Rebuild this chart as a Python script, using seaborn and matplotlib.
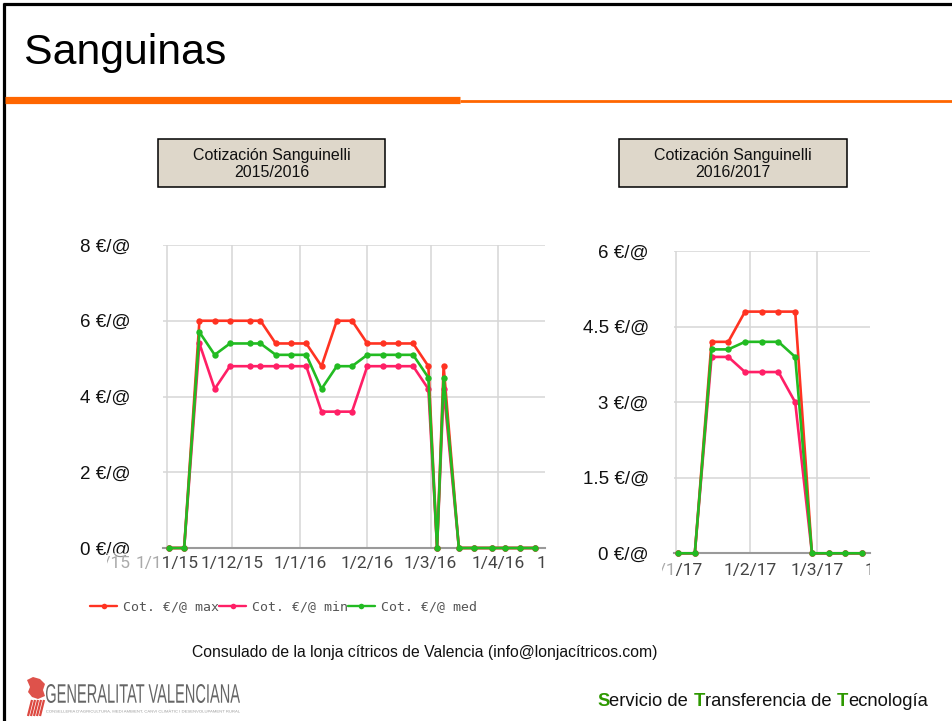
import matplotlib
matplotlib.use("Agg")
import matplotlib.pyplot as plt
import matplotlib.dates as mdates
import matplotlib.transforms as mtrans
import seaborn as sns
import pandas as pd
from matplotlib.patches import Rectangle, PathPatch, Polygon
from matplotlib.textpath import TextPath
from matplotlib.font_manager import FontProperties
from matplotlib.lines import Line2D

# ---------------- data ----------------
fechas_1516 = ["2015-11-02", "2015-11-09", "2015-11-16", "2015-11-23", "2015-11-30",
               "2015-12-09", "2015-12-14", "2015-12-21", "2015-12-28", "2016-01-04",
               "2016-01-11", "2016-01-18", "2016-01-25", "2016-02-01", "2016-02-08",
               "2016-02-15", "2016-02-22", "2016-02-29", "2016-03-04", "2016-03-07",
               "2016-03-14", "2016-03-21", "2016-03-29", "2016-04-04", "2016-04-11",
               "2016-04-18"]
max_1516 = [0, 0, 6.0, 6.0, 6.0, 6.0, 6.0, 5.4, 5.4, 5.4, 4.8, 6.0, 6.0, 5.4, 5.4,
            5.4, 5.4, 4.8, 0, 4.8, 0, 0, 0, 0, 0, 0]
min_1516 = [0, 0, 5.4, 4.2, 4.8, 4.8, 4.8, 4.8, 4.8, 4.8, 3.6, 3.6, 3.6, 4.8, 4.8,
            4.8, 4.8, 4.2, 0, 4.2, 0, 0, 0, 0, 0, 0]
med_1516 = [0, 0, 5.7, 5.1, 5.4, 5.4, 5.4, 5.1, 5.1, 5.1, 4.2, 4.8, 4.8, 5.1, 5.1,
            5.1, 5.1, 4.5, 0, 4.5, 0, 0, 0, 0, 0, 0]

fechas_1617 = ["2017-01-02", "2017-01-09", "2017-01-16", "2017-01-23", "2017-01-30",
               "2017-02-06", "2017-02-13", "2017-02-20", "2017-02-27", "2017-03-06",
               "2017-03-13", "2017-03-20"]
max_1617 = [0, 0, 4.2, 4.2, 4.8, 4.8, 4.8, 4.8, 0, 0, 0, 0]
min_1617 = [0, 0, 3.9, 3.9, 3.6, 3.6, 3.6, 3.0, 0, 0, 0, 0]
med_1617 = [0, 0, 4.05, 4.05, 4.2, 4.2, 4.2, 3.9, 0, 0, 0, 0]

series = ["Cot. €/@ max", "Cot. €/@ min", "Cot. €/@ med"]

yticks_1516 = [0, 2, 4, 6, 8]
ylabels_1516 = ["0 €/@", "2 €/@", "4 €/@", "6 €/@", "8 €/@"]
yticks_1617 = [0, 1.5, 3, 4.5, 6]
ylabels_1617 = ["0 €/@", "1.5 €/@", "3 €/@", "4.5 €/@", "6 €/@"]

meses_1516 = ["2015-10-01", "2015-11-01", "2015-12-01", "2016-01-01", "2016-02-01",
              "2016-03-01", "2016-04-01", "2016-05-01"]
xlabels_1516 = ["1/10/15", "1/11/15", "1/12/15", "1/1/16", "1/2/16", "1/3/16",
                "1/4/16", "1/5/16"]
meses_1617 = ["2017-01-01", "2017-02-01", "2017-03-01", "2017-04-01"]
xlabels_1617 = ["1/1/17", "1/2/17", "1/3/17", "1/4/17"]

titulo = "Sanguinas"
caja_1 = "Cotización Sanguinelli\n2015/2016"
caja_2 = "Cotización Sanguinelli\n2016/2017"
pie = "Consulado de la lonja cítricos de Valencia (info@lonjacítricos.com)"

# ---------------- style ----------------
sns.set_theme(style="whitegrid")
plt.rcParams["font.family"] = ["Liberation Sans", "DejaVu Sans"]

W, H = 953, 721
fig = plt.figure(figsize=(W / 100, H / 100), dpi=100)
fig.patch.set_facecolor("white")

bg = fig.add_axes([0, 0, 1, 1])
bg.set_xlim(0, W)
bg.set_ylim(H, 0)
bg.axis("off")

palette = {series[0]: "#FF3322", series[1]: "#FF1F66", series[2]: "#22BB22"}


def fr(x0, y0, x1, y1):
    return [x0 / W, 1 - y1 / H, (x1 - x0) / W, (y1 - y0) / H]


def make_df(fechas, a, b, c):
    return pd.DataFrame({
        "fecha": pd.to_datetime(fechas * 3),
        "valor": a + b + c,
        "serie": [series[0]] * len(fechas) + [series[1]] * len(fechas) + [series[2]] * len(fechas),
    })


def chart(rect, df, yt, ylab, meses, xlim, ylim, pad):
    ax = fig.add_axes(rect)
    sns.lineplot(data=df, x="fecha", y="valor", hue="serie", hue_order=series,
                 palette=palette, marker="o", markersize=4.6, markeredgewidth=0,
                 linewidth=1.9, legend=False, estimator=None, sort=False, ax=ax)
    for ln in ax.lines:
        ln.set_clip_on(False)
    ax.set_xlim(pd.Timestamp(xlim[0]), pd.Timestamp(xlim[1]))
    ax.set_ylim(*ylim)
    inside = [pd.Timestamp(m) for m in meses
              if pd.Timestamp(xlim[0]) <= pd.Timestamp(m) <= pd.Timestamp(xlim[1])]
    ax.set_xticks(inside)
    ax.set_yticks(yt)
    ax.set_yticklabels(ylab)
    ax.tick_params(axis="x", labelbottom=False, length=0)
    ax.tick_params(axis="y", length=0, pad=pad, labelsize=13.5, labelcolor="#111111")
    ax.grid(True, color="#D6D6D6", lw=1.1)
    ax.set_axisbelow(True)
    for s in ["top", "right", "left"]:
        ax.spines[s].set_visible(False)
    ax.spines["bottom"].set_color("#9A9A9A")
    ax.spines["bottom"].set_linewidth(1.5)
    ax.spines["bottom"].set_zorder(1.5)
    ax.set_xlabel("")
    ax.set_ylabel("")
    ax.set_facecolor("white")
    return ax


def month_labels(ax, meses, labels, clip_left, plot_left, clip_right, gap):
    trans = mtrans.blended_transform_factory(ax.transData, ax.transAxes) + \
        mtrans.Affine2D().translate(0, -gap)
    for m, lab in zip(meses, labels):
        xv = mdates.date2num(pd.Timestamp(m))
        t = fig.text(xv, 0, lab, transform=trans, ha="center", va="top",
                     fontsize=12.5, family="Roboto", color="#444444")
        t.set_clip_on(True)
        t.set_clip_box(mtrans.TransformedBbox(
            mtrans.Bbox.from_extents(clip_left / W, 0, clip_right / W, 1), fig.transFigure))
    # fade the part of the labels that lies left of the plot area
    y_top = ax.get_position().y0 * H
    fade = Rectangle((clip_left, y_top - 35), plot_left - clip_left, 30,
                     transform=mtrans.IdentityTransform(), facecolor="white",
                     alpha=0.55, edgecolor="none", zorder=5)
    fig.add_artist(fade)


# ---------------- chart 1 ----------------
ax1 = chart(fr(163, 245, 545, 548), make_df(fechas_1516, max_1516, min_1516, med_1516),
            yticks_1516, ylabels_1516, meses_1516,
            ("2015-10-30 07:00", "2016-04-22 12:00"), (0, 8), 23.5)
month_labels(ax1, meses_1516, xlabels_1516, 107, 163, 545, 8)

handles = [Line2D([], [], color=palette[s], lw=1.7, marker="o", ms=4, mew=0) for s in series]
fig.legend(handles, series, loc="center left", bbox_to_anchor=(90 / W, 1 - 607 / H),
           ncol=3, frameon=False, handlelength=2.05, handletextpad=0.45,
           columnspacing=0.0, borderpad=0, borderaxespad=0,
           prop=FontProperties(family="DejaVu Sans Mono", size=9.5), labelcolor="#555555")

# ---------------- chart 2 ----------------
ax2 = chart(fr(674, 251.2, 870, 553.3), make_df(fechas_1617, max_1617, min_1617, med_1617),
            yticks_1617, ylabels_1617, meses_1617,
            ("2016-12-31 07:00", "2017-03-23 07:00"), (0, 6), 18)
month_labels(ax2, meses_1617, xlabels_1617, 662, 674, 870, 10)

# ---------------- slide decoration ----------------
bg.plot([4, 4], [3, H], color="black", lw=2.3, clip_on=False, solid_capstyle="butt")
bg.plot([3, W], [4, 4], color="black", lw=2.3, clip_on=False, solid_capstyle="butt")
bg.plot([5, 460], [100, 100], color="#FF6600", lw=5.2, solid_capstyle="butt")
bg.plot([460, W], [100.5, 100.5], color="#FF6600", lw=2.0, solid_capstyle="butt")

bg.text(24, 64, titulo, fontsize=30.8, color="black", va="baseline", ha="left")

for (x0, y0, x1, y1), txt in [((158, 139, 385, 187), caja_1), ((619, 139, 847, 187), caja_2)]:
    bg.add_patch(Rectangle((x0, y0), x1 - x0, y1 - y0, facecolor="#DED7CA",
                           edgecolor="black", lw=1.1))
    bg.text((x0 + x1) / 2, (y0 + y1) / 2 + 1, txt, ha="center", va="center",
            fontsize=11.5, linespacing=1.18, color="#111111")

bg.text(425, 653, pie, ha="center", va="center", fontsize=11.3, color="#111111")

green = "#2E9900"
pieces = [("S", green, "bold"), ("ervicio de ", "#111111", "normal"),
          ("T", green, "bold"), ("ransferencia de ", "#111111", "normal"),
          ("T", green, "bold"), ("ecnología", "#111111", "normal")]
t = bg.text(597, 706, pieces[0][0], color=pieces[0][1], weight=pieces[0][2],
            fontsize=13.2, va="baseline", ha="left")
for txt, col, wt in pieces[1:]:
    t = bg.annotate(txt, xy=(1, 0), xycoords=t, va="bottom", ha="left",
                    color=col, weight=wt, fontsize=13.2)


# logo text (condensed via path scaling)
def scaled_text(s, x0, x1, ybot, height, color, fam="Liberation Sans"):
    tp = TextPath((0, 0), s, size=100, prop=FontProperties(family=fam))
    bb = tp.get_extents()
    tr = mtrans.Affine2D().translate(-bb.x0, -bb.y0).scale(
        (x1 - x0) / bb.width, height / bb.height).translate(x0, H - ybot)
    fig.add_artist(PathPatch(tp, transform=tr, facecolor=color, lw=0))


scaled_text("GENERALITAT VALENCIANA", 46, 240, 703, 19, "#666666")
scaled_text("CONSELLERIA D'AGRICULTURA, MEDI AMBIENT, CANVI CLIMÀTIC I DESENVOLUPAMENT RURAL",
            46, 240, 713, 3.5, "#999999")

red = "#D9342B"
bg.add_patch(Polygon([(27, 680), (33, 677), (40, 679), (45, 684), (43, 690), (45, 696),
                      (38, 699), (32, 697), (28, 692), (30, 687)],
                     closed=True, facecolor=red, edgecolor="none", alpha=0.85))
for k in range(5):
    bg.plot([28 + 3 * k, 32 + 3 * k], [716, 700], color=red, lw=1.6,
            solid_capstyle="butt", alpha=0.9)

fig.savefig("out.png", dpi=100, facecolor="white")
